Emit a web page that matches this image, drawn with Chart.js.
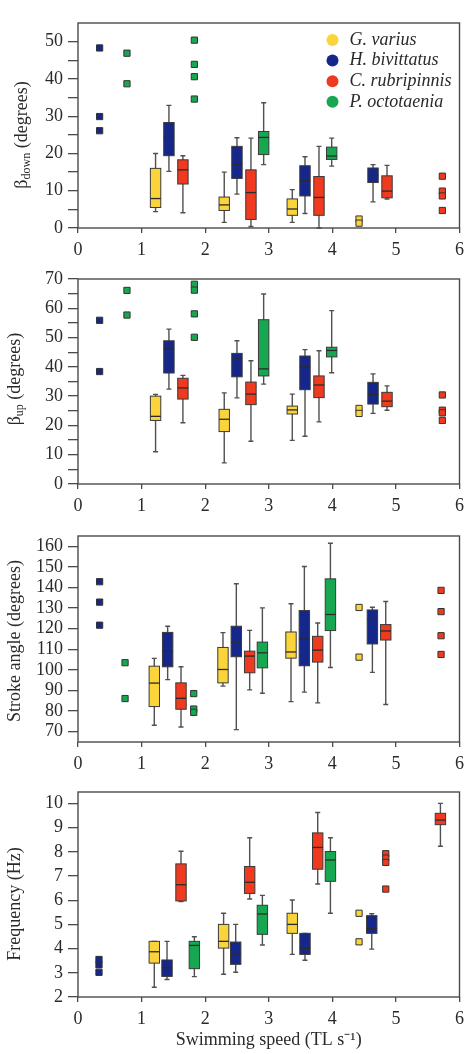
<!DOCTYPE html>
<html>
<head>
<meta charset="utf-8">
<script src="https://cdn.jsdelivr.net/npm/chart.js@4.4.1/dist/chart.umd.min.js"></script>
<style>
    body { margin: 0; background: #fff; }
    #wrap { position: relative; width: 470px; height: 1054px; }
    canvas { position: absolute; left: 0; }
</style>
</head>
<body>
<div id="wrap">
    <canvas id="down" width="470" height="258" style="top:0px"></canvas>
    <canvas id="up" width="470" height="258" style="top:258px"></canvas>
    <canvas id="stroke" width="470" height="260" style="top:516px"></canvas>
    <canvas id="freq" width="470" height="278" style="top:776px"></canvas>
</div>
<script>
const species = ['G. varius', 'H. bivittatus', 'C. rubripinnis', 'P. octotaenia']
const speciesColors = ['#fad43a', '#16278c', '#ef3a1f', '#17a751']

const speedTicks = [0, 1, 2, 3, 4, 5, 6]
const betaDownTicks = [0, 5, 10, 15, 20, 25, 30, 35, 40, 45, 50]
const betaUpTicks = [0, 5, 10, 15, 20, 25, 30, 35, 40, 45, 50, 55, 60, 65, 70]
const strokeTicks = [70, 80, 90, 100, 110, 120, 130, 140, 150, 160]
const freqTicks = [2, 3, 4, 5, 6, 7, 8, 9, 10]

// box rows: [species, speed, min, q1, median, q3, max]
const betaDownBoxes = [
    [0, 1.22, 4.4, 5.5, 7.9, 16.0, 20.0],
    [1, 1.43, 15.2, 19.4, 24.3, 28.3, 32.9],
    [2, 1.65, 4.1, 11.8, 15.6, 18.3, 19.4],
    [0, 2.30, 1.5, 4.7, 6.2, 8.3, 15.0],
    [1, 2.50, 9.1, 13.3, 17.1, 21.9, 24.2],
    [2, 2.72, 0.4, 2.3, 9.5, 15.6, 24.1],
    [3, 2.92, 17.0, 19.7, 24.3, 25.9, 33.6],
    [0, 3.37, 1.5, 3.4, 5.1, 7.8, 10.3],
    [1, 3.57, 3.9, 8.6, 12.7, 16.7, 19.1],
    [2, 3.79, 0, 3.4, 8.2, 13.8, 21.9],
    [3, 3.99, 16.6, 18.4, 19.3, 21.7, 24.1],
    [1, 4.64, 7.0, 12.2, 14.1, 16.1, 17.0],
    [2, 4.86, 7.8, 8.1, 9.9, 14.0, 16.8]
]
// point rows: [species, speed, value]
const betaDownPoints = [
    [1, 0.34, 48.3], [1, 0.34, 29.9], [1, 0.34, 26.1],
    [3, 0.77, 46.9], [3, 0.77, 38.7],
    [3, 1.83, 50.4], [3, 1.83, 43.9], [3, 1.83, 40.6], [3, 1.83, 34.6],
    [0, 4.42, 2.4], [0, 4.42, 1.3],
    [2, 5.73, 13.9], [2, 5.73, 9.9], [2, 5.73, 8.6], [2, 5.73, 4.7]
]

const betaUpBoxes = [
    [0, 1.22, 11.0, 21.7, 23.1, 30.0, 30.6],
    [1, 1.43, 32.4, 37.9, 46.1, 48.9, 52.9],
    [2, 1.65, 20.9, 29.0, 32.8, 36.1, 37.1],
    [0, 2.30, 7.2, 17.9, 22.1, 25.5, 31.1],
    [1, 2.50, 29.4, 36.6, 43.0, 44.6, 48.9],
    [2, 2.72, 14.6, 27.1, 30.7, 34.8, 42.1],
    [3, 2.92, 34.1, 36.9, 39.3, 56.1, 64.9],
    [0, 3.37, 14.9, 23.9, 25.3, 26.6, 30.7],
    [1, 3.57, 16.3, 32.2, 40.0, 43.7, 45.9],
    [2, 3.79, 21.2, 29.5, 33.8, 36.9, 45.5],
    [3, 3.99, 38.0, 43.4, 45.6, 46.7, 59.2],
    [1, 4.64, 24.1, 27.3, 30.6, 34.7, 37.6],
    [2, 4.86, 25.2, 26.4, 28.3, 31.3, 33.5]
]
const betaUpPoints = [
    [1, 0.34, 55.9], [1, 0.34, 38.4],
    [3, 0.77, 66.1], [3, 0.77, 57.7],
    [3, 1.83, 68.2], [3, 1.83, 66.2], [3, 1.83, 58.1], [3, 1.83, 50.1],
    [0, 4.42, 25.8], [0, 4.42, 24.1],
    [2, 5.73, 30.4], [2, 5.73, 25.2], [2, 5.73, 24.3], [2, 5.73, 21.7]
]

const strokeBoxes = [
    [0, 1.20, 73.1, 82.2, 93.6, 101.8, 105.6],
    [1, 1.41, 95.3, 101.5, 109.0, 118.2, 121.2],
    [2, 1.62, 72.3, 80.9, 86.2, 93.7, 101.5],
    [0, 2.28, 92.1, 93.7, 100.2, 110.9, 118.1],
    [1, 2.49, 71.0, 106.4, 113.5, 121.2, 141.8],
    [2, 2.70, 90.3, 98.6, 106.7, 109.1, 119.2],
    [3, 2.90, 88.7, 101.0, 108.3, 113.5, 130.1],
    [0, 3.35, 84.6, 105.7, 108.7, 118.4, 132.1],
    [1, 3.56, 89.2, 102.0, 115.0, 128.8, 150.2],
    [2, 3.77, 84.0, 103.8, 109.6, 116.3, 122.8],
    [3, 3.97, 101.2, 119.1, 126.9, 144.2, 161.5],
    [1, 4.63, 98.8, 112.6, 124.6, 129.1, 130.4],
    [2, 4.84, 83.2, 114.5, 118.9, 122.0, 133.2]
]
const strokePoints = [
    [1, 0.34, 142.8], [1, 0.34, 132.9], [1, 0.34, 121.7],
    [3, 0.74, 103.5], [3, 0.74, 86.1],
    [3, 1.82, 88.5], [3, 1.82, 81.0], [3, 1.82, 79.4],
    [0, 4.42, 130.3], [0, 4.42, 106.2],
    [2, 5.71, 138.6], [2, 5.71, 128.3], [2, 5.71, 116.6], [2, 5.71, 107.5]
]

const freqBoxes = [
    [0, 1.20, 2.40, 3.40, 3.87, 4.30, 4.30],
    [1, 1.40, 2.72, 2.85, 3.21, 3.53, 4.30],
    [2, 1.62, 5.94, 5.97, 6.64, 7.50, 8.02],
    [3, 1.83, 2.84, 3.17, 4.13, 4.30, 4.49],
    [0, 2.29, 2.94, 4.02, 4.30, 5.00, 5.46],
    [1, 2.48, 3.02, 3.35, 3.78, 4.27, 5.00],
    [2, 2.70, 6.05, 6.28, 6.74, 7.39, 8.58],
    [3, 2.90, 4.15, 4.59, 5.43, 5.79, 6.20],
    [0, 3.37, 3.76, 4.63, 5.00, 5.46, 6.01],
    [1, 3.57, 3.52, 3.76, 4.01, 4.63, 4.63],
    [2, 3.77, 6.67, 7.28, 8.18, 8.78, 9.62],
    [3, 3.97, 5.46, 6.78, 7.66, 8.01, 8.58],
    [1, 4.62, 3.98, 4.63, 4.82, 5.36, 5.44],
    [2, 5.70, 8.23, 9.12, 9.31, 9.59, 10.0]
]
const freqPoints = [
    [1, 0.33, 3.55], [1, 0.33, 3.33], [1, 0.33, 3.02],
    [0, 4.42, 5.46], [0, 4.42, 4.28],
    [2, 4.84, 7.92], [2, 4.84, 7.74], [2, 4.84, 7.56], [2, 4.84, 6.46]
]

Chart.defaults.font.family = '"Liberation Serif", "Times New Roman", serif'
Chart.defaults.font.size = 18
Chart.defaults.color = '#2a2a2a'

const inkColor = '#2a2a2a'
const frameColor = '#4a4a4a'

function boxPlot(rows) {
    return {
        id: 'boxPlot',
        beforeDatasetsDraw(chart) {
            const { ctx, scales: { x, y } } = chart
            const half = 5.2
            const cap = 2.5
            ctx.save()
            rows.forEach(([sp, speed, min, q1, med, q3, max]) => {
                const px = x.getPixelForValue(speed)
                const yMin = y.getPixelForValue(min)
                const yMax = y.getPixelForValue(max)
                const yQ1 = y.getPixelForValue(q1)
                const yQ3 = y.getPixelForValue(q3)
                const yMed = y.getPixelForValue(med)
                // whiskers
                ctx.strokeStyle = '#505050'
                ctx.lineWidth = 1.4
                ctx.beginPath()
                ctx.moveTo(px, yMax)
                ctx.lineTo(px, yMin)
                ctx.moveTo(px - cap, yMax)
                ctx.lineTo(px + cap, yMax)
                ctx.moveTo(px - cap, yMin)
                ctx.lineTo(px + cap, yMin)
                ctx.stroke()
                // box
                ctx.fillStyle = speciesColors[sp]
                ctx.fillRect(px - half, yQ3, half * 2, yQ1 - yQ3)
                ctx.strokeStyle = '#3a3a3a'
                ctx.lineWidth = 1
                ctx.strokeRect(px - half, yQ3, half * 2, yQ1 - yQ3)
                // median
                ctx.strokeStyle = '#2b2b2b'
                ctx.lineWidth = 1.3
                ctx.beginPath()
                ctx.moveTo(px - half, yMed)
                ctx.lineTo(px + half, yMed)
                ctx.stroke()
            })
            ctx.restore()
        }
    }
}

const frame = {
    id: 'frame',
    afterDraw(chart) {
        const { ctx, chartArea: a } = chart
        ctx.save()
        ctx.strokeStyle = frameColor
        ctx.lineWidth = 1.4
        ctx.strokeRect(a.left, a.top, a.right - a.left, a.bottom - a.top)
        ctx.restore()
    }
}

// rotated y title, parts may be subscripts
function yTitle(parts, cx, cy) {
    return {
        id: 'yTitle',
        afterDraw(chart) {
            const { ctx } = chart
            ctx.save()
            ctx.fillStyle = inkColor
            ctx.textBaseline = 'middle'
            const fontOf = p => (p.sub ? '12px ' : '18px ') + Chart.defaults.font.family
            let total = 0
            parts.forEach(p => { ctx.font = fontOf(p); total += ctx.measureText(p.text).width })
            ctx.translate(cx, cy)
            ctx.rotate(-Math.PI / 2)
            let pos = -total / 2
            parts.forEach(p => {
                ctx.font = fontOf(p)
                ctx.fillText(p.text, pos, p.sub ? 4.5 : 0)
                pos += ctx.measureText(p.text).width
            })
            ctx.restore()
        }
    }
}

const speciesLegend = {
    id: 'speciesLegend',
    afterDraw(chart) {
        const { ctx, chartArea: a } = chart
        ctx.save()
        ctx.textBaseline = 'middle'
        ctx.font = 'italic 18px ' + Chart.defaults.font.family
        species.forEach((name, i) => {
            const cy = a.top + 17 + i * 20.6
            ctx.fillStyle = speciesColors[i]
            ctx.beginPath()
            ctx.arc(a.right - 127, cy, 6, 0, Math.PI * 2)
            ctx.fill()
            ctx.fillStyle = inkColor
            ctx.fillText(name, a.right - 110, cy)
        })
        ctx.restore()
    }
}

function makePanel(id, cfg) {
    const datasets = species.map((name, i) => ({
        label: name,
        data: cfg.points.filter(p => p[0] === i).map(p => ({ x: p[1], y: p[2] })),
        pointStyle: 'rect',
        pointRadius: 4.4,
        backgroundColor: speciesColors[i],
        borderColor: '#333333',
        borderWidth: 1
    }))
    const plugins = [boxPlot(cfg.boxes), frame, yTitle(cfg.title, cfg.titleX, cfg.titleY)]
    if (cfg.legend) plugins.push(speciesLegend)
    return new Chart(document.getElementById(id), {
        type: 'scatter',
        data: { datasets },
        options: {
            responsive: false,
            animation: false,
            devicePixelRatio: 1,
            events: [],
            layout: { padding: { top: cfg.padTop, right: 10, left: 0, bottom: 0 } },
            plugins: { legend: { display: false }, tooltip: { enabled: false } },
            scales: {
                x: {
                    type: 'linear',
                    min: 0,
                    max: 6,
                    afterBuildTicks: s => { s.ticks = speedTicks.map(v => ({ value: v })) },
                    afterFit: s => { s.height = cfg.xHeight },
                    border: { display: false },
                    grid: { drawOnChartArea: false, tickLength: 5, tickColor: frameColor, lineWidth: 1.3 },
                    ticks: { padding: 6, color: inkColor, maxRotation: 0, autoSkip: false },
                    title: {
                        display: !!cfg.xTitle,
                        text: cfg.xTitle || '',
                        color: inkColor,
                        padding: { top: 0, bottom: 3 }
                    }
                },
                y: {
                    type: 'linear',
                    min: cfg.yMin,
                    max: cfg.yMax,
                    afterBuildTicks: s => { s.ticks = cfg.yTicks.map(v => ({ value: v })) },
                    afterFit: s => { s.width = 78 },
                    border: { display: false },
                    grid: { drawOnChartArea: false, tickLength: 10, tickColor: frameColor, lineWidth: 1.3 },
                    ticks: {
                        padding: 5,
                        color: inkColor,
                        autoSkip: false,
                        callback: v => (v % cfg.labelEvery === 0 ? v : '')
                    }
                }
            }
        },
        plugins
    })
}

makePanel('down', {
    boxes: betaDownBoxes, points: betaDownPoints,
    yMin: 0, yMax: 55, yTicks: betaDownTicks, labelEvery: 10,
    title: [{ text: 'β' }, { text: 'down', sub: true }, { text: ' (degrees)' }],
    titleX: 22, titleY: 135, padTop: 23, xHeight: 30, legend: true
})
makePanel('up', {
    boxes: betaUpBoxes, points: betaUpPoints,
    yMin: 0, yMax: 70, yTicks: betaUpTicks, labelEvery: 10,
    title: [{ text: 'β' }, { text: 'up', sub: true }, { text: ' (degrees)' }],
    titleX: 15, titleY: 121, padTop: 21, xHeight: 32
})
makePanel('stroke', {
    boxes: strokeBoxes, points: strokePoints,
    yMin: 65, yMax: 165, yTicks: strokeTicks, labelEvery: 10,
    title: [{ text: 'Stroke angle (degrees)' }],
    titleX: 15.5, titleY: 125, padTop: 20, xHeight: 34
})
makePanel('freq', {
    boxes: freqBoxes, points: freqPoints,
    yMin: 2, yMax: 10.47, yTicks: freqTicks, labelEvery: 1,
    title: [{ text: 'Frequency (Hz)' }],
    titleX: 15, titleY: 128, padTop: 16, xHeight: 57,
    xTitle: 'Swimming speed (TL s⁻¹)'
})
</script>
</body>
</html>
